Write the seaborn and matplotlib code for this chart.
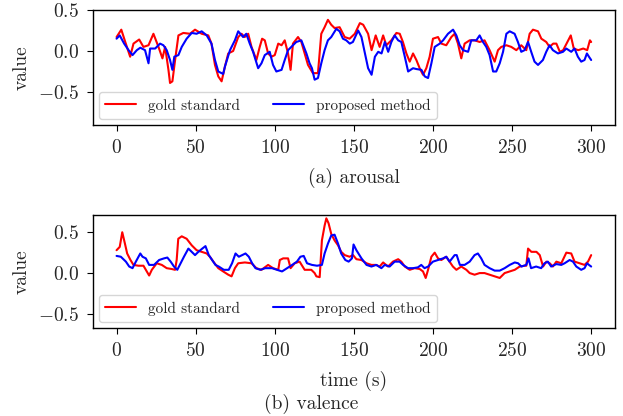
import numpy as np
import pandas as pd
import seaborn as sns
import matplotlib.pyplot as plt

# arousal, gold standard
aro_gold_t = [0, 3, 5.5, 8.6, 10.7, 14.3, 17, 20.2, 23.3, 26.5, 29, 30.7, 32.8, 33.8, 35.3, 37, 39.1, 42.2,
              46.4, 49.6, 53.8, 58, 60, 62.2, 64.3, 66.4, 68.5, 70.6, 73.7, 76.9, 79, 81, 83.2, 85.3, 88.4,
              90.5, 92, 93.7, 95.8, 97.9, 100, 102.2, 104.3, 106.3, 108.4, 110, 111.5, 114.7, 116.8, 118.9,
              121, 124.1, 127.3, 129.4, 131.5, 133.6, 135.7, 137.8, 141, 144.2, 147.3, 150.6, 153.8, 155.9,
              159, 161.2, 163.8, 166.3, 168.5, 170.5, 173.7, 176.9, 179, 181, 183.2, 185.3, 187.4, 189.5,
              191.6, 193.7, 195.8, 197.9, 200, 203.2, 205.3, 208.4, 211.6, 213.7, 215.8, 217.9, 220, 223.2,
              226.3, 229.5, 232.6, 235.8, 239, 241.1, 243.2, 246.4, 249.5, 252.7, 255.8, 259, 261.1, 263.2,
              266.4, 268.5, 271.6, 273.7, 276, 278, 280.2, 282.3, 285.5, 287.1, 289, 291.8, 295, 297.5,
              299.2, 300]
aro_gold_v = [0.17, 0.26, 0.11, -0.07, 0.09, 0.14, 0.05, 0.07, 0.21, 0.05, -0.09, 0.05, -0.23, -0.39, -0.37,
              -0.11, 0.19, 0.22, 0.21, 0.26, 0.21, 0.19, 0.09, -0.17, -0.31, -0.37, -0.19, -0.03, 0.0, 0.17,
              0.21, 0.17, 0.21, 0.05, -0.11, 0.05, 0.15, 0.13, -0.03, -0.07, -0.05, 0.09, 0.07, 0.13, -0.03,
              -0.23, 0.09, 0.17, 0.11, -0.03, -0.17, -0.27, -0.27, 0.21, 0.29, 0.38, 0.32, 0.28, 0.29, 0.17,
              0.15, 0.21, 0.34, 0.32, 0.21, 0.01, 0.19, 0.05, 0.19, 0.07, 0.13, 0.22, 0.21, 0.11, -0.03,
              -0.13, -0.03, -0.11, -0.21, -0.29, -0.21, -0.07, 0.15, 0.17, 0.09, 0.07, 0.17, 0.21, 0.09,
              -0.09, 0.09, 0.13, 0.13, 0.11, 0.13, 0.01, -0.13, 0.01, 0.05, 0.07, 0.05, 0.01, 0.07, 0.01,
              0.21, 0.26, 0.24, 0.15, 0.11, 0.05, 0.09, 0.09, -0.01, 0.01, 0.13, 0.19, 0.03, 0.01, 0.03,
              0.01, 0.13, 0.11]

# arousal, proposed method
aro_pred_t = [0, 2, 4.8, 7.6, 10.1, 12.8, 15, 18, 20.2, 21.2, 24.4, 27.5, 29.6, 31.7, 33.8, 35.3, 36.5, 39.1,
              41.2, 44.3, 47.5, 50.6, 53.8, 57, 60, 62.2, 64.3, 67.4, 68.5, 71.7, 74.8, 76.9, 80, 82, 84.2,
              86.3, 89.5, 91.6, 93.7, 96.8, 98.9, 101, 104.3, 106.3, 108.4, 110.5, 113.6, 116.8, 120, 122,
              123.5, 125.2, 127.3, 129.4, 131.5, 133.6, 135.7, 138.9, 141, 143.1, 145.2, 147.4, 149.4, 152.7,
              154.8, 157, 159, 161.2, 163.3, 165.4, 167.5, 169.6, 171.7, 173.7, 175.8, 178, 180, 182.2,
              184.3, 187.4, 189.5, 192.7, 194.8, 196.9, 199, 201.1, 204.3, 206.4, 209.5, 212.7, 214.8,
              216.9, 219, 222.2, 224.2, 227.4, 229.5, 231.6, 233.7, 235.8, 238, 240, 242.2, 244.3, 246.4,
              248.5, 251.6, 253.7, 255.8, 257.9, 260.1, 262.1, 264.2, 266.4, 269.5, 271.6, 273.7, 275.8,
              279, 282.2, 284.3, 287.4, 289.5, 291.6, 293.7, 295.8, 297.3, 298.6, 300]
aro_pred_v = [0.15, 0.19, 0.09, 0.01, -0.05, 0.01, 0.04, 0.01, -0.15, 0.03, 0.03, 0.09, 0.07, 0.01, -0.11,
              -0.23, -0.07, -0.05, 0.05, 0.15, 0.22, 0.21, 0.24, 0.19, 0.09, -0.11, -0.25, -0.28, -0.19, 0.01,
              0.13, 0.24, 0.17, 0.21, 0.09, -0.01, -0.21, -0.15, -0.05, -0.01, -0.17, -0.25, -0.23, -0.11,
              0.01, 0.05, 0.11, 0.13, -0.03, -0.15, -0.21, -0.35, -0.33, -0.15, 0.01, 0.13, 0.17, 0.27, 0.24,
              0.15, 0.13, 0.09, 0.11, 0.25, 0.17, -0.03, -0.21, -0.29, -0.07, -0.01, -0.03, 0.11, -0.01, 0.11,
              0.19, 0.13, 0.11, -0.07, -0.25, -0.21, -0.22, -0.23, -0.31, -0.33, -0.15, 0.05, 0.09, 0.13,
              0.21, 0.26, 0.19, 0.07, 0.01, -0.01, 0.13, 0.13, 0.19, 0.11, 0.05, -0.05, -0.25, -0.25, -0.15,
              -0.01, 0.21, 0.24, 0.21, 0.11, -0.01, 0.01, 0.11, -0.01, -0.13, -0.17, -0.11, -0.01, 0.07,
              0.01, -0.03, -0.01, 0.03, -0.01, 0.03, -0.07, -0.13, -0.11, -0.03, -0.07, -0.11]

# valence, gold standard
val_gold_t = [0, 2, 3.6, 5.3, 6.7, 8.8, 10.7, 13.8, 17, 19.1, 20.6, 22.3, 25.4, 28.6, 31.7, 34.8, 37, 38, 39,
              41.2, 44.3, 47.5, 50.6, 53.8, 57, 59, 61.2, 64.3, 67.4, 70.6, 72.7, 74.8, 76.9, 81.1, 85.3,
              88.4, 91.6, 95.8, 98.9, 102.2, 103.2, 105.3, 108.4, 110, 112.6, 115.7, 118.9, 123.1, 125.2,
              126.3, 128.4, 129.8, 131.5, 132.6, 134, 135.7, 137.8, 140, 142, 144.2, 147.3, 149.5, 151.6,
              154.8, 158, 161.1, 164, 166.3, 168.5, 171.6, 174.7, 178, 180, 182.2, 185.3, 188.4, 191.6,
              193.7, 195.4, 196.9, 199, 201.1, 203.2, 205.3, 208.4, 210.5, 212.6, 214.8, 217.9, 221.1,
              223.2, 226.3, 229.5, 232.6, 235.8, 239, 242.2, 245.3, 248.5, 251.7, 254.8, 258, 259, 260.1,
              262.2, 265.4, 267.5, 269.6, 271.7, 273.8, 275.8, 278, 281.1, 284.3, 287.4, 289.5, 292.7,
              295.8, 298, 300]
val_gold_v = [0.28, 0.32, 0.50, 0.36, 0.24, 0.16, 0.10, 0.09, 0.09, 0.02, -0.03, 0.04, 0.12, 0.10, 0.06,
              0.05, 0.04, 0.16, 0.42, 0.45, 0.42, 0.34, 0.28, 0.26, 0.24, 0.20, 0.14, 0.06, 0.02, -0.02,
              -0.04, 0.06, 0.12, 0.13, 0.12, 0.06, 0.04, 0.10, 0.06, 0.04, 0.16, 0.18, 0.18, 0.06, 0.12,
              0.14, 0.04, 0.04, 0.0, -0.04, -0.05, 0.40, 0.58, 0.67, 0.61, 0.48, 0.40, 0.34, 0.26, 0.22,
              0.20, 0.22, 0.17, 0.16, 0.12, 0.10, 0.10, 0.08, 0.13, 0.08, 0.14, 0.17, 0.14, 0.08, 0.04,
              0.06, 0.05, 0.02, -0.06, 0.04, 0.20, 0.25, 0.18, 0.16, 0.20, 0.14, 0.08, 0.04, 0.08, 0.04,
              0.0, -0.02, 0.0, 0.0, -0.02, -0.04, -0.06, 0.0, 0.02, 0.04, 0.08, 0.09, 0.09, 0.30, 0.26,
              0.26, 0.22, 0.08, 0.14, 0.12, 0.08, 0.14, 0.12, 0.25, 0.24, 0.14, 0.12, 0.10, 0.14, 0.22]

# valence, proposed method
val_pred_t = [0, 2.7, 5.9, 8, 10.1, 12.2, 15, 16.4, 18.5, 20.6, 23.7, 26.9, 30, 32.1, 34.2, 36.3, 38.4, 40.5,
              42.6, 45.4, 47.5, 49.6, 51.7, 54.2, 56.2, 58.3, 60.4, 62.5, 64.6, 67.8, 70.9, 73, 75.2, 77.3,
              79.4, 81.5, 83.6, 85.7, 87.8, 90.9, 94, 98.3, 101.4, 104.6, 107.8, 111, 114, 116.2, 118.3,
              120.4, 123.5, 126.7, 129.8, 131.5, 133.6, 135.7, 137.8, 140, 142, 144.6, 146.7, 148.8, 149.8,
              151.6, 154.8, 158, 161.1, 164.2, 167.4, 169.5, 172.6, 175.8, 178.9, 181.1, 184.2, 187.4,
              190.5, 192.6, 194.7, 196.9, 200, 203.2, 206.4, 208.4, 210.5, 213.7, 215, 217, 220, 223.2,
              226.3, 228.4, 230.5, 232.6, 235.8, 239, 242.2, 245.3, 248.5, 251.7, 253.8, 255.9, 259, 260.4,
              262, 265.2, 268.4, 270.5, 272.6, 274.7, 278, 281.1, 283.2, 286.4, 288.5, 290.6, 293.7, 295.8,
              297.4, 298.6, 300]
val_pred_v = [0.21, 0.20, 0.14, 0.08, 0.06, 0.14, 0.24, 0.20, 0.18, 0.10, 0.10, 0.16, 0.18, 0.19, 0.14,
              0.08, 0.04, 0.12, 0.20, 0.30, 0.26, 0.22, 0.26, 0.30, 0.33, 0.22, 0.16, 0.10, 0.08, 0.04,
              0.04, 0.12, 0.24, 0.20, 0.22, 0.24, 0.20, 0.12, 0.06, 0.04, 0.06, 0.06, 0.04, 0.02, 0.06,
              0.10, 0.14, 0.20, 0.21, 0.12, 0.10, 0.09, 0.10, 0.24, 0.36, 0.46, 0.47, 0.36, 0.24, 0.16,
              0.14, 0.18, 0.35, 0.28, 0.18, 0.10, 0.08, 0.10, 0.06, 0.10, 0.08, 0.14, 0.14, 0.10, 0.06,
              0.06, 0.07, 0.10, 0.06, 0.08, 0.14, 0.16, 0.18, 0.20, 0.14, 0.22, 0.22, 0.10, 0.10, 0.14,
              0.22, 0.24, 0.18, 0.10, 0.06, 0.03, 0.03, 0.06, 0.10, 0.13, 0.12, 0.08, 0.10, 0.18, 0.06,
              0.08, 0.06, 0.12, 0.14, 0.08, 0.11, 0.10, 0.12, 0.16, 0.14, 0.08, 0.04, 0.06, 0.12, 0.10, 0.08]

sns.set_style("ticks")
plt.rcParams['font.family'] = ['cmr10', 'DejaVu Serif']
plt.rcParams['mathtext.fontset'] = 'cm'
plt.rcParams['axes.formatter.use_mathtext'] = True
plt.rcParams['axes.unicode_minus'] = True

fig = plt.figure(figsize=(6.23, 4.16), dpi=100)
ax1 = fig.add_axes([0.149, 0.700, 0.838, 0.276])
ax2 = fig.add_axes([0.149, 0.212, 0.838, 0.271])

panels = [
    (ax1, aro_gold_t, aro_gold_v, aro_pred_t, aro_pred_v, (-0.9, 0.5), "(a) arousal"),
    (ax2, val_gold_t, val_gold_v, val_pred_t, val_pred_v, (-0.67, 0.71), "time (s)"),
]
for ax, gt, gv, pt, pv, ylim, xlab in panels:
    sns.lineplot(x=gt, y=gv, ax=ax, color='red', lw=1.5, label='gold standard', estimator=None)
    sns.lineplot(x=pt, y=pv, ax=ax, color='blue', lw=1.5, label='proposed method', estimator=None)
    ax.set_xlim(-15, 315)
    ax.set_ylim(*ylim)
    ax.set_yticks([-0.5, 0.0, 0.5])
    ax.set_xticks([0, 50, 100, 150, 200, 250, 300])
    ax.set_ylabel("value", fontsize=14, labelpad=5)
    ax.set_xlabel(xlab, fontsize=14, labelpad=8)
    ax.tick_params(labelsize=14, length=4.5, pad=5.5, color='black')
    for s in ax.spines.values():
        s.set_color('black')
        s.set_linewidth(1.0)
    ax.legend(loc='lower left', ncol=2, fontsize=11, frameon=True, borderaxespad=0.4,
              handlelength=2.0, columnspacing=2.2, edgecolor='#cccccc', fancybox=True,
              borderpad=0.4)

fig.text(0.5, 0.029, "(b) valence", ha='center', va='center', fontsize=14)
fig.savefig("out.png", dpi=100)
